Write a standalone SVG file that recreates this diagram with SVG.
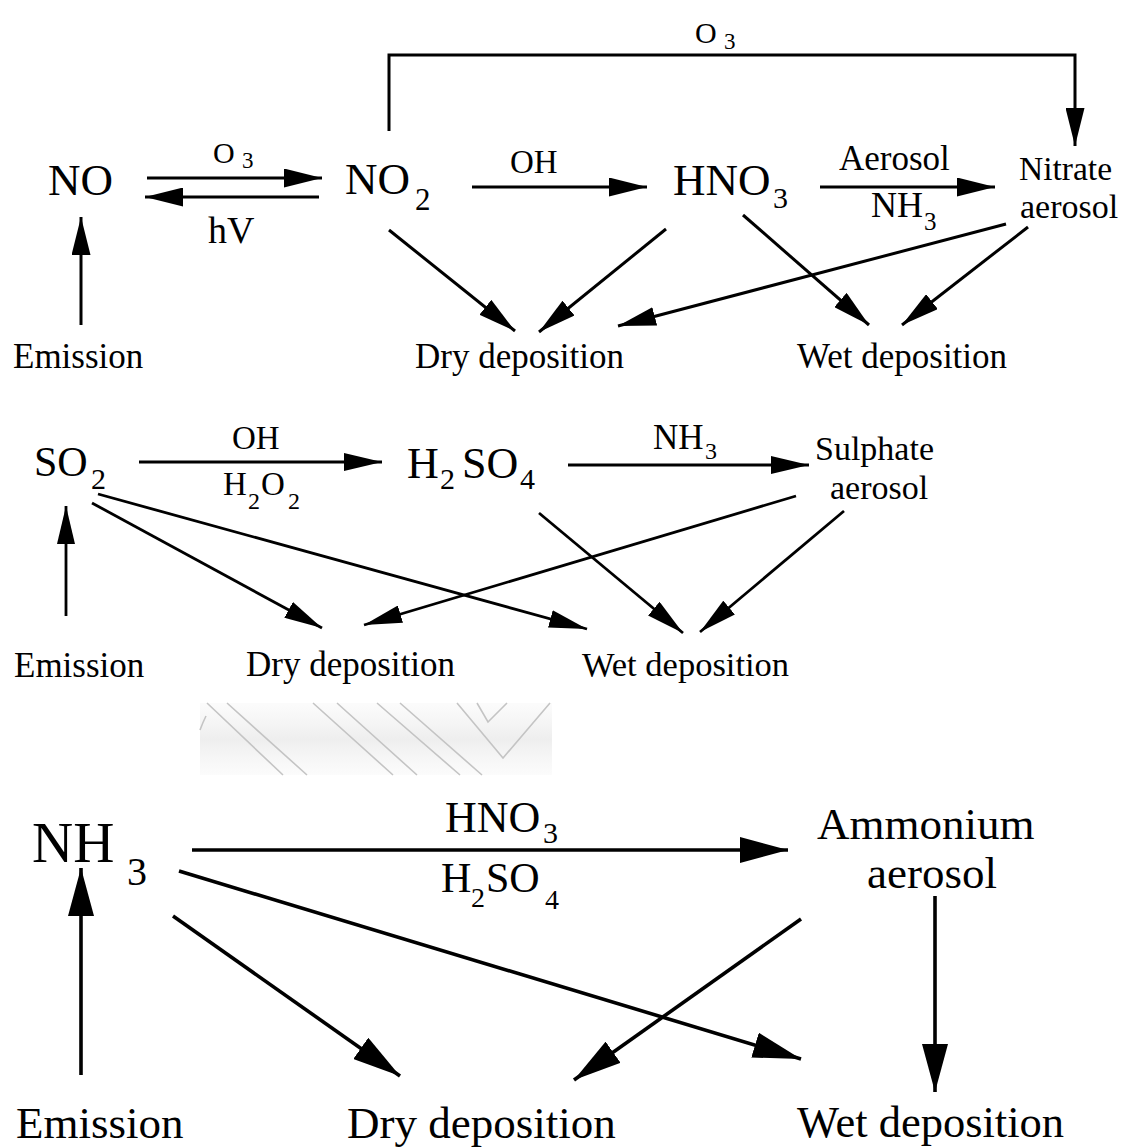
<svg xmlns="http://www.w3.org/2000/svg" width="1125" height="1148" viewBox="0 0 1125 1148">
<style>
text{font-family:"Liberation Serif","Times New Roman",serif;fill:#000}
.c{fill:none;stroke:#000;stroke-linecap:butt}
.t{stroke-width:3;marker-end:url(#aTop)}
.m{stroke-width:2.8;marker-end:url(#aMid)}
.b{stroke-width:3.6;marker-end:url(#aBot)}
.wm{fill:none;stroke:#c4c4c4;stroke-width:1.6}
</style>
<defs>
<marker id="aTop" markerUnits="userSpaceOnUse" markerWidth="38" markerHeight="19" refX="38" refY="9.5" orient="auto" viewBox="0 0 38 19"><path d="M0,0 L38,9.5 L0,19 z" fill="#000"/></marker>
<marker id="aMid" markerUnits="userSpaceOnUse" markerWidth="38" markerHeight="18" refX="38" refY="9" orient="auto" viewBox="0 0 38 18"><path d="M0,0 L38,9 L0,18 z" fill="#000"/></marker>
<marker id="aBot" markerUnits="userSpaceOnUse" markerWidth="48" markerHeight="26" refX="48" refY="13" orient="auto" viewBox="0 0 48 26"><path d="M0,0 L48,13 L0,26 z" fill="#000"/></marker>
<linearGradient id="wmg" x1="0" y1="0" x2="0" y2="1"><stop offset="0" stop-color="#f3f3f3" stop-opacity="0.3"/><stop offset="0.5" stop-color="#eeeeee"/><stop offset="1" stop-color="#f3f3f3" stop-opacity="0.3"/></linearGradient>
</defs>
<rect width="1125" height="1148" fill="#fff"/>

<g id="watermark">
<rect x="200" y="703" width="352" height="72" fill="url(#wmg)"/>
<path class="wm" d="M207,703 L283,775 M227,703 L307,775 M313,703 L393,775 M337,703 L417,775 M377,703 L460,775 M400,703 L482,775 M457,703 L503,758 L550,703 M477,703 L488,722 L507,703 M200,730 Q203,722 206,716"/>
</g>

<g id="connectors">
<path class="c t" d="M147,178 L322,178"/>
<path class="c t" d="M319,197 L145,197"/>
<path class="c t" d="M81,325 L81,217"/>
<path class="c t" d="M389,131 V55 H1075 V146"/>
<path class="c t" d="M472,187 L647,187"/>
<path class="c t" d="M820,187 L995,187"/>
<path class="c t" d="M389,230 L515,331"/>
<path class="c t" d="M666,229 L539,332"/>
<path class="c t" d="M1006,224 L618,326"/>
<path class="c t" d="M743,215 L869,325"/>
<path class="c t" d="M1028,227 L902,325"/>

<path class="c m" d="M139,462 L382,462"/>
<path class="c m" d="M568,465 L809,465"/>
<path class="c m" d="M66,616 L66,506"/>
<path class="c m" d="M92,503 L322,628"/>
<path class="c m" d="M98,494 L587,629"/>
<path class="c m" d="M796,496 L364,625"/>
<path class="c m" d="M539,513 L683,633"/>
<path class="c m" d="M844,511 L700,632"/>

<path class="c b" d="M192,850 L788,850"/>
<path class="c b" d="M81,1075 L81,868"/>
<path class="c b" d="M173,916 L400,1076"/>
<path class="c b" d="M179,871 L801,1059"/>
<path class="c b" d="M801,919 L574,1080"/>
<path class="c b" d="M935,896 L935,1092"/>
</g>

<g id="labels">
<text x="213" y="163" font-size="30">O<tspan x="242" y="168" font-size="23">3</tspan></text>
<text x="208" y="243" font-size="38">hV</text>
<text x="695" y="43" font-size="30">O<tspan x="724" y="49" font-size="23">3</tspan></text>
<text x="510" y="173" font-size="33">OH</text>
<text x="839" y="170" font-size="35">Aerosol</text>
<text x="871" y="217" font-size="36">NH<tspan x="924" y="230" font-size="25">3</tspan></text>
<text x="232" y="449" font-size="33">OH</text>
<text x="223" y="495" font-size="33">H<tspan x="248" y="509" font-size="24">2</tspan><tspan x="261" y="495" font-size="33">O</tspan><tspan x="288" y="509" font-size="24">2</tspan></text>
<text x="653" y="449" font-size="35">NH<tspan x="705" y="459" font-size="24">3</tspan></text>
<text x="445" y="832" font-size="44">HNO<tspan x="543" y="843" font-size="30">3</tspan></text>
<text x="441" y="892" font-size="42">H<tspan x="471" y="907" font-size="28">2</tspan><tspan x="486" y="892" font-size="42">SO</tspan><tspan x="545" y="909" font-size="28">4</tspan></text>
</g>

<g id="node-NO"><text x="48" y="195" font-size="45">NO</text></g>
<g id="node-NO2"><text x="345" y="194" font-size="45">NO<tspan x="415" y="210" font-size="31">2</tspan></text></g>
<g id="node-HNO3"><text x="673" y="195" font-size="45">HNO<tspan x="773" y="208" font-size="30">3</tspan></text></g>
<g id="node-nitrate"><text x="1019" y="180" font-size="33.5">Nitrate</text><text x="1020" y="218" font-size="34">aerosol</text></g>
<g id="node-emission1"><text x="13" y="368" font-size="35">Emission</text></g>
<g id="node-dry1"><text x="415" y="368" font-size="35">Dry deposition</text></g>
<g id="node-wet1"><text x="797" y="368" font-size="35">Wet deposition</text></g>

<g id="node-SO2"><text x="34" y="476" font-size="42">SO<tspan x="91" y="489" font-size="30">2</tspan></text></g>
<g id="node-H2SO4"><text x="407" y="478" font-size="44">H<tspan x="440" y="489" font-size="30">2</tspan><tspan x="462" y="478" font-size="44">SO</tspan><tspan x="520" y="489" font-size="30">4</tspan></text></g>
<g id="node-sulphate"><text x="815" y="460" font-size="34">Sulphate</text><text x="830" y="499" font-size="34">aerosol</text></g>
<g id="node-emission2"><text x="14" y="677" font-size="35">Emission</text></g>
<g id="node-dry2"><text x="246" y="676" font-size="35">Dry deposition</text></g>
<g id="node-wet2"><text x="582" y="676" font-size="34.5">Wet deposition</text></g>

<g id="node-NH3"><text x="32" y="862" font-size="57">NH<tspan x="127" y="885" font-size="40">3</tspan></text></g>
<g id="node-ammonium"><text x="817" y="839" font-size="45">Ammonium</text><text x="867" y="888" font-size="45">aerosol</text></g>
<g id="node-emission3"><text x="16" y="1138" font-size="45">Emission</text></g>
<g id="node-dry3"><text x="347" y="1138" font-size="45">Dry deposition</text></g>
<g id="node-wet3"><text x="797" y="1137" font-size="44.5">Wet deposition</text></g>
</svg>
